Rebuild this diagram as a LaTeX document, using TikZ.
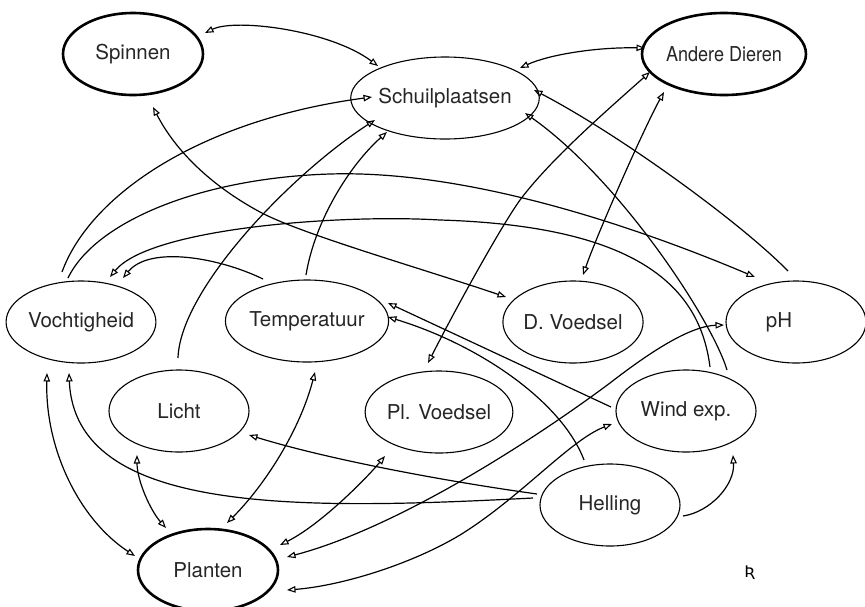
\documentclass[tikz,border=0pt]{standalone}
\usepackage{fontspec}
\usepackage{graphicx}
\setmainfont{TeX Gyre Heros}
\newfontfamily\markfont{DejaVu Sans}
\usetikzlibrary{shapes.geometric,arrows.meta,calc}
\begin{document}
\begin{tikzpicture}[x=1pt,y=-1pt,
  ell/.style={ellipse, draw, line width=1.1pt, minimum width=140pt, minimum height=82pt, inner sep=0pt, text=black!85, font=\fontsize{20.5}{24}\selectfont},
  bold/.style={ell, line width=2.6pt},
  con/.style={line width=1.2pt},
  >={Triangle[open,length=8.5pt,width=6.5pt,line width=1.1pt]}]
\useasboundingbox[fill=white] (0,0) rectangle (865,606);
% nodes
\node[bold] (sp) at (133,54) {Spinnen};
\node[ell]  (sc) at (445,98) {Schuilplaatsen};
\node[bold] (ad) at (724,54) {\scalebox{0.88}[1]{Andere Dieren}};
\node[ell]  (vo) at (81,322) {Vochtigheid};
\node[ell]  (te) at (307,321) {Temperatuur};
\node[ell]  (dv) at (573,322) {D. Voedsel};
\node[ell]  (ph) at (796,322) {pH\hspace*{34pt}};
\node[ell]  (li) at (179,411) {Licht};
\node[ell]  (pv) at (439,412) {Pl. Voedsel};
\node[ell]  (we) at (686,411) {Wind exp.};
\node[ell]  (he) at (610,505) {Helling};
\node[bold] (pl) at (208,570) {Planten};
\node (mk) at (750,573) {\markfont\fontsize{16}{16}\selectfont Ʀ};
% connectors
\draw[con,<->] ($(sp.center)+(72,-21)$) .. controls (235,18) and (330,30) .. ($(sc.center)+(-67,-32)$);
\draw[con,<->] ($(sc.center)+(75,-30)$) .. controls (548,55) and (595,47) .. ($(ad.center)+(-79,-6)$);
\draw[con,->] ($(vo.center)+(-19,-50)$) .. controls (90,195) and (200,120) .. ($(sc.center)+(-73,-1)$);
\draw[con,->] ($(vo.center)+(-13,-44)$) .. controls (95,222) and (200,178) .. (330,174) .. controls (460,170) and (620,220) .. ($(ph.center)+(-41,-45)$);
\draw[con,<->] ($(sp.center)+(20,53)$) .. controls (175,150) and (210,185) .. (260,212) .. controls (300,233.6) and (420,268) .. ($(dv.center)+(-67,-25)$);
\draw[con,<->] ($(ad.center)+(-74,18)$) .. controls (605,112) and (550,160) .. (520,200) .. controls (500,228) and (455,310) .. ($(pv.center)+(-11,-49)$);
\draw[con,<->] ($(ad.center)+(-60,38)$) .. controls (645,126) and (598,232) .. ($(dv.center)+(10,-47)$);
\draw[con,->] ($(ph.center)+(-8,-51)$) .. controls (740,222) and (620,135) .. ($(sc.center)+(89,-8)$);
\draw[con,->] ($(we.center)+(41,-41)$) .. controls (712,320) and (620,180) .. ($(sc.center)+(80,15)$);
\draw[con,->] ($(we.center)+(24,-44)$) .. controls (700,288) and (640,226) .. (440,220) .. controls (340,214) and (150,228) .. ($(vo.center)+(29,-45)$);
\draw[con,->] ($(te.center)+(-44,-42)$) .. controls (220,258) and (150,245) .. ($(vo.center)+(42,-44)$);
\draw[con,->] ($(te.center)+(-1,-46)$) .. controls (315,220) and (350,165) .. ($(sc.center)+(-58,34)$);
\draw[con,->] ($(li.center)+(-1,-53)$) .. controls (180,290) and (290,175) .. ($(sc.center)+(-70,22)$);
\draw[con,<->] ($(te.center)+(8,51)$) .. controls (300,430) and (265,485) .. ($(pl.center)+(19,-47)$);
\draw[con,<->] ($(vo.center)+(-34,51)$) .. controls (45,450) and (80,520) .. ($(pl.center)+(-73,-14)$);
\draw[con,->] ($(he.center)+(-77,-7)$) .. controls (300,510) and (75,515) .. ($(vo.center)+(-12,51)$);
\draw[con,->] ($(he.center)+(-73,-11)$) .. controls (450,482) and (330,460) .. ($(li.center)+(70,24)$);
\draw[con,<->] ($(li.center)+(-42,44)$) .. controls (137,480) and (150,510) .. ($(pl.center)+(-42,-42)$);
\draw[con,<->] ($(pv.center)+(-54,44)$) .. controls (365,480) and (320,525) .. ($(pl.center)+(72,-25)$);
\draw[con,<->] ($(pl.center)+(79,-13)$) .. controls (390,530) and (520,450) .. (610,383) .. controls (650,352) and (690,326) .. ($(ph.center)+(-72,3)$);
\draw[con,<->] ($(pl.center)+(79,20)$) .. controls (340,586) and (410,565) .. (460,535) .. controls (520,498) and (570,440) .. ($(we.center)+(-74,13)$);
\draw[con,->] ($(he.center)+(73,11)$) .. controls (710,512) and (735,485) .. ($(we.center)+(47,44)$);
\draw[con,->] ($(he.center)+(-26,-45)$) .. controls (562,402) and (480,345) .. ($(te.center)+(81,-4)$);
\draw[con,->] ($(we.center)+(-75,-4)$) -- ($(te.center)+(81,-18)$);
\end{tikzpicture}
\end{document}
